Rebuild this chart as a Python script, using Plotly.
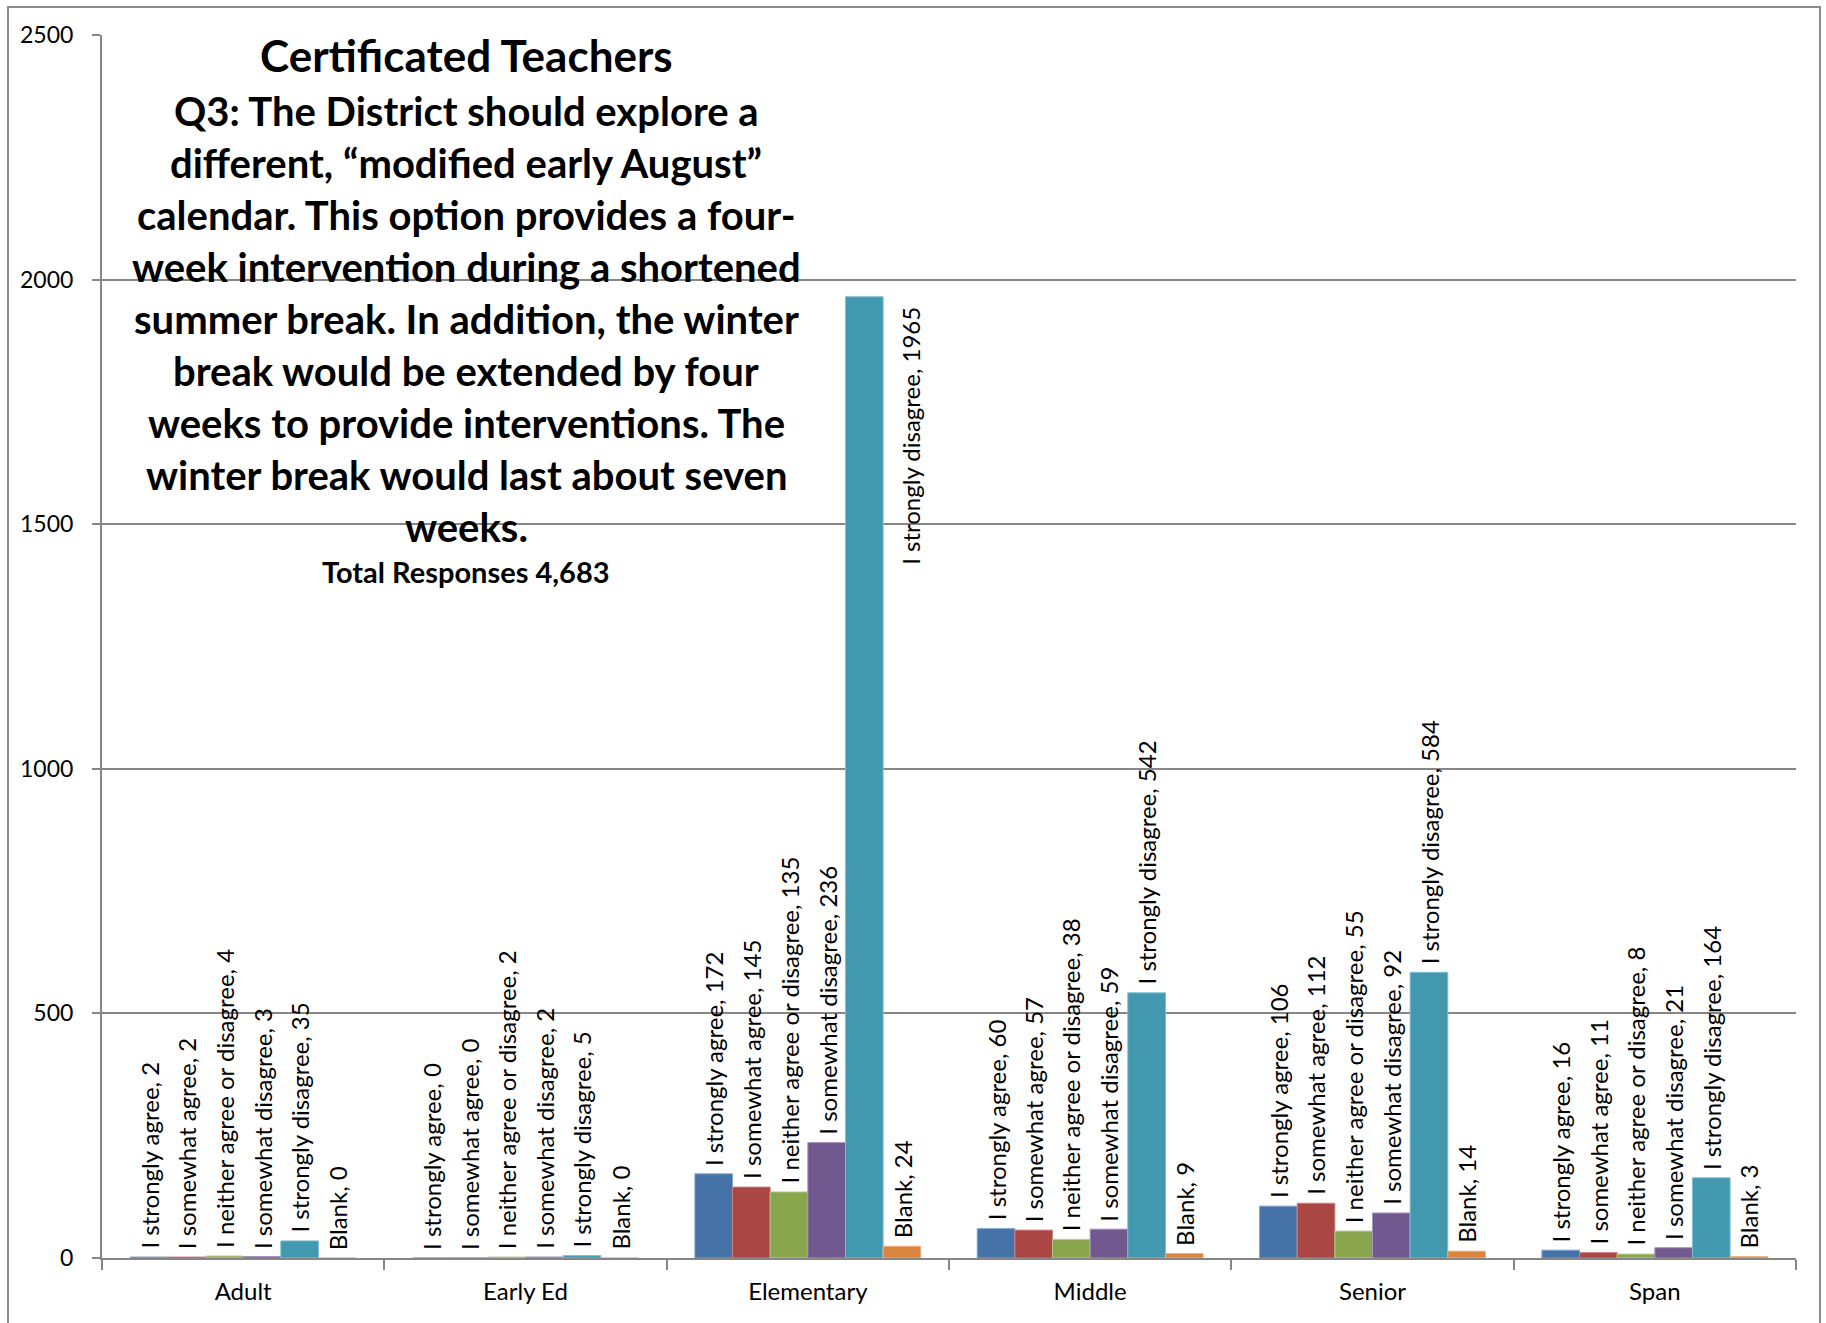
import plotly.graph_objects as go

categories = ["Adult", "Early Ed", "Elementary", "Middle", "Senior", "Span"]
series_names = ["I strongly agree", "I somewhat agree", "I neither agree or disagree",
                "I somewhat disagree", "I strongly disagree", "Blank"]
strongly_agree = [2, 0, 172, 60, 106, 16]
somewhat_agree = [2, 0, 145, 57, 112, 11]
neither = [4, 2, 135, 38, 55, 8]
somewhat_disagree = [3, 2, 236, 59, 92, 21]
strongly_disagree = [35, 5, 1965, 542, 584, 164]
blank = [0, 0, 24, 9, 14, 3]
series_values = [strongly_agree, somewhat_agree, neither, somewhat_disagree, strongly_disagree, blank]
colors = ["#4572A7", "#AA4643", "#89A54E", "#71588F", "#4198AF", "#DB843D"]
edge_colors = ["#7FA1CC", "#CC8381", "#B3CC8A", "#A592BF", "#7EC0D2", "#F0B07E"]

title_lines = [
    "Certificated Teachers",
    "Q3: The District should explore a",
    "different, \u201cmodified early August\u201d",
    "calendar. This option provides a four-",
    "week intervention during a shortened",
    "summer break. In addition, the winter",
    "break would be extended by four",
    "weeks to provide interventions. The",
    "winter break would last about seven",
    "weeks.",
]
subtitle = "Total Responses 4,683"
y_ticks = [0, 500, 1000, 1500, 2000, 2500]

W, H = 1826, 1323
ML, MR, MT, MB = 102, 30, 35, 65
PW = W - ML - MR
PH = H - MT - MB
FONT = "Lato, 'Open Sans', sans-serif"

fig = go.Figure()
for name, vals, col, ec in zip(series_names, series_values, colors, edge_colors):
    fig.add_trace(go.Bar(
        x=categories, y=vals, name=name,
        marker=dict(color=col, line=dict(color=ec, width=1)),
        showlegend=False, hoverinfo="x+y+name",
    ))

ymax = y_ticks[-1]
n_series = len(series_names)
group_frac = 0.8
bw = PW / len(categories) * group_frac / n_series
LABEL_SIZE = 24
annotations = []
for i, (name, vals) in enumerate(zip(series_names, series_values)):
    for cat, v in zip(categories, vals):
        label = f"{name}, {v}"
        if v > 0.6 * ymax:
            annotations.append(dict(
                x=cat, y=v, xref="x", yref="y", text=label, showarrow=False,
                textangle=-90, xanchor="center", yanchor="top",
                xshift=(i - (n_series - 1) / 2) * bw + bw / 2 + 28, yshift=-8,
                font=dict(family=FONT, size=LABEL_SIZE, color="#000000"),
            ))
        else:
            annotations.append(dict(
                x=cat, y=v, xref="x", yref="y", text=label, showarrow=False,
                textangle=-90, xanchor="center", yanchor="bottom",
                xshift=(i - (n_series - 1) / 2) * bw, yshift=6,
                font=dict(family=FONT, size=LABEL_SIZE, color="#000000"),
            ))

# title block
title_x_px = 466
line_y_px = [55, 111, 163, 215, 267, 319, 371, 423, 475, 527]
line_sizes = [44, 40, 40, 40, 40, 40, 40, 40, 40, 40]
for txt, ypx, sz in zip(title_lines, line_y_px, line_sizes):
    annotations.append(dict(
        x=(title_x_px - ML) / PW, y=(H - MB - ypx) / PH, xref="paper", yref="paper",
        text=f"<b>{txt}</b>", showarrow=False, xanchor="center", yanchor="middle",
        font=dict(family=FONT, size=sz, color="#000000"),
    ))
annotations.append(dict(
    x=(title_x_px - ML) / PW, y=(H - MB - 572) / PH, xref="paper", yref="paper",
    text=f"<b>{subtitle}</b>", showarrow=False, xanchor="center", yanchor="middle",
    font=dict(family=FONT, size=29, color="#000000"),
))

fig.update_layout(
    width=W, height=H, autosize=False,
    margin=dict(l=ML, r=MR, t=MT, b=MB, pad=0),
    paper_bgcolor="white", plot_bgcolor="white",
    barmode="group", bargap=1 - group_frac, bargroupgap=0,
    font=dict(family=FONT, size=20, color="#000000"),
    annotations=annotations,
    shapes=[dict(type="rect", xref="paper", yref="paper",
                 x0=(8 - ML) / PW, x1=(1820 - ML) / PW,
                 y0=(H - MB - 1340) / PH, y1=(H - MB - 7) / PH,
                 line=dict(color="#8C8C8C", width=2), fillcolor="rgba(0,0,0,0)", layer="below")],
)
fig.update_xaxes(
    type="category", showline=True, linecolor="#868686", linewidth=2,
    ticks="outside", tickson="boundaries", ticklen=10, tickcolor="#868686", tickwidth=2,
    ticklabelstandoff=11,
    showgrid=False, tickfont=dict(family=FONT, size=24, color="#000000"),
)
fig.update_yaxes(
    range=[0, ymax], tickvals=y_ticks, showgrid=True, gridcolor="#868686", gridwidth=1.5,
    showline=True, linecolor="#868686", linewidth=2, zeroline=False,
    ticks="outside", ticklen=8, tickcolor="#868686", tickwidth=1.5,
    ticklabelstandoff=14,
    tickfont=dict(family=FONT, size=23, color="#000000"),
)
fig.write_html("out.html", config={"displayModeBar": False},
               post_script="document.body.style.margin='0';document.body.style.overflow='hidden';")
